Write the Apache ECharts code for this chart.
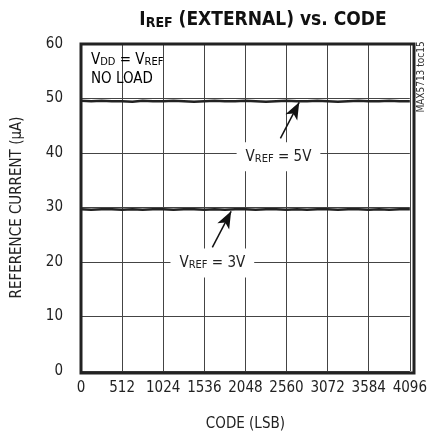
<!DOCTYPE html>
<html><head><meta charset="utf-8">
<script src="https://cdn.jsdelivr.net/npm/echarts@6/dist/echarts.min.js"></script>
<style>html,body{margin:0;padding:0;background:#fff}#c{width:430px;height:437px}</style>
</head><body><div id="c"></div>
<script>
const FONT = "'DejaVu Sans Condensed','Liberation Sans Narrow',sans-serif";
const codes = [0,128,256,384,512,640,768,896,1024,1152,1280,1408,1536,1664,1792,1920,2048,2176,2304,2432,2560,2688,2816,2944,3072,3200,3328,3456,3584,3712,3840,3968,4096];
const iref5V = [49.6,49.5,49.6,49.5,49.5,49.4,49.6,49.5,49.5,49.6,49.5,49.4,49.5,49.6,49.5,49.5,49.6,49.5,49.4,49.5,49.6,49.5,49.5,49.6,49.5,49.4,49.5,49.6,49.5,49.5,49.6,49.5,49.5];
const iref3V = [29.7,29.6,29.7,29.7,29.6,29.7,29.6,29.7,29.7,29.6,29.7,29.7,29.6,29.7,29.6,29.7,29.7,29.6,29.7,29.7,29.6,29.7,29.6,29.7,29.7,29.6,29.7,29.7,29.6,29.7,29.6,29.7,29.7];
const xTicks = [0,512,1024,1536,2048,2560,3072,3584,4096];
const yTicks = [0,10,20,30,40,50,60];

const sub = {fontSize: 11, fontFamily: FONT, color:'#222', verticalAlign:'bottom', padding:[3,0,0,0]};
const norm = {fontSize: 15, fontFamily: FONT, color:'#222', verticalAlign:'bottom'};

function arrowLine(from, to){
  return [{coord: from, symbol:'none'}, {coord: to, symbol:'arrow', symbolSize:[10,17]}];
}

const chart = echarts.init(document.getElementById('c'), null, {renderer:'canvas'});
chart.setOption({
  animation:false,
  backgroundColor:'#fff',
  title:{
    text:'{b|I}{bs|REF}{b| (EXTERNAL) vs. CODE}',
    left: 258, top: 6, textAlign:'center',
    textStyle:{rich:{
      b:{fontSize:19, fontWeight:'bold', fontFamily:FONT, color:'#111', verticalAlign:'bottom'},
      bs:{fontSize:14, fontWeight:'bold', fontFamily:FONT, color:'#111', verticalAlign:'bottom', padding:[4,0,0,0]}
    }}
  },
  grid:{left:81, right:16, top:44, bottom:64, show:false},
  xAxis:{
    type:'value', min:0, max:4096, interval:512,
    name:'CODE (LSB)', nameLocation:'middle', nameGap:46,
    nameTextStyle:{fontSize:15, fontFamily:FONT, color:'#222'},
    axisLine:{show:false}, axisTick:{show:false},
    axisLabel:{fontSize:15, fontFamily:FONT, color:'#222', margin:10,
      formatter: v => xTicks.includes(v) ? String(v) : ''},
    splitLine:{show:true, lineStyle:{color:'#444', width:1}}
  },
  yAxis:{
    type:'value', min:0, max:60, interval:10,
    name:'REFERENCE CURRENT (µA)', nameLocation:'middle', nameGap:56,
    nameTextStyle:{fontSize:15, fontFamily:FONT, color:'#222'},
    axisLine:{show:false}, axisTick:{show:false},
    axisLabel:{fontSize:15, fontFamily:FONT, color:'#222', margin:18,
      formatter: v => yTicks.includes(v) ? String(v) : ''},
    splitLine:{show:true, lineStyle:{color:'#444', width:1}}
  },
  series:[
    {
      type:'line', data: codes.map((c,i)=>[c, iref5V[i]]), symbol:'none',
      lineStyle:{color:'#222', width:2.5}, z:3,
      markLine:{silent:true, animation:false, symbol:['none','arrow'],
        lineStyle:{color:'#111', width:1.5, type:'solid'}, label:{show:false},
        data:[arrowLine([2484,42.7],[2718,49.3])]},
      markPoint:{silent:true, symbol:'rect', symbolSize:0,
        data:[{coord:[2460,39.3], value:'5V'}],
        label:{show:true, position:'inside', backgroundColor:'#fff', padding:[7,9,7,9],
          formatter:'{n|V}{s|REF}{n| = 5V}', rich:{n:norm, s:sub}}}
    },
    {
      type:'line', data: codes.map((c,i)=>[c, iref3V[i]]), symbol:'none',
      lineStyle:{color:'#222', width:2.5}, z:3,
      markLine:{silent:true, animation:false, symbol:['none','arrow'],
        lineStyle:{color:'#111', width:1.5, type:'solid'}, label:{show:false},
        data:[arrowLine([1636,22.7],[1870,29.3])]},
      markPoint:{silent:true, symbol:'rect', symbolSize:0,
        data:[{coord:[1636,19.8], value:'3V'}],
        label:{show:true, position:'inside', backgroundColor:'#fff', padding:[7,9,7,9],
          formatter:'{n|V}{s|REF}{n| = 3V}', rich:{n:norm, s:sub}}}
    }
  ],
  graphic:[
    {type:'rect', shape:{x:81, y:44, width:333, height:329}, style:{fill:'none', stroke:'#222', lineWidth:3}, z:10, silent:true},
    {type:'text', left:91, top:53, style:{text:'{n|V}{s|DD}{n| = V}{s|REF}\n{n|NO LOAD}', rich:{n:Object.assign({}, norm, {lineHeight:19}), s:Object.assign({}, sub, {lineHeight:19})}}, z:11},
    {type:'text', x:416, y:77, rotation:Math.PI/2, style:{text:'MAX5713 toc15', fontSize:10, fontFamily:FONT, fill:'#333', align:'center', verticalAlign:'top'}, z:11}
  ]
});
</script></body></html>
